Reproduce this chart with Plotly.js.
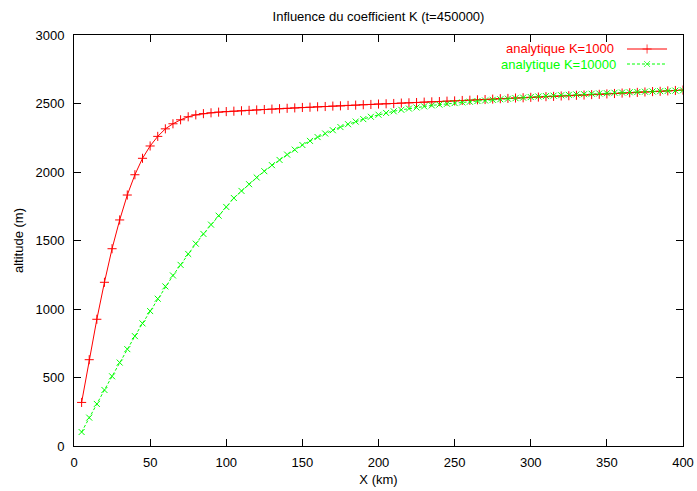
<!DOCTYPE html>
<html>
<head>
<meta charset="utf-8">
<script src="https://cdn.plot.ly/plotly-3.0.1.min.js"></script>
<style>html,body{margin:0;padding:0;background:#fff;}#chart{width:697px;height:491px;}</style>
</head>
<body>
<div id="chart"></div>
<script>
// X positions (km)
var xKm = [5,10,15,20,25,30,35,40,45,50,55,60,65,70,75,80,85,90,95,100,
  105,110,115,120,125,130,135,140,145,150,155,160,165,170,175,180,185,190,195,200,
  205,210,215,220,225,230,235,240,245,250,255,260,265,270,275,280,285,290,295,300,
  305,310,315,320,325,330,335,340,345,350,355,360,365,370,375,380,385,390,395,400];

// analytique K=1000 (m)
var altK1000 = [318,630,925,1195,1440,1650,1832,1980,2100,2190,2260,2315,2352,2381,2403,2417,2426,2432,2437,2441,
  2444,2447,2450,2453,2456,2459,2462,2465,2468,2471,2473,2476,2478,2481,2483,2486,2488,2491,2493,2496,
  2498,2500,2503,2505,2507,2510,2512,2514,2517,2519,2522,2524,2527,2529,2532,2535,2537,2540,2542,2545,
  2547,2550,2552,2555,2557,2560,2562,2565,2567,2570,2573,2576,2578,2581,2584,2587,2589,2592,2595,2598];

// analytique K=10000 (m)
var altK10000 = [102,207,307,409,509,609,707,802,895,985,1075,1165,1245,1322,1402,1477,1548,1616,1681,1745,
  1810,1862,1911,1960,2006,2050,2088,2127,2163,2197,2227,2255,2281,2305,2328,2349,2368,2386,2403,2418,
  2431,2443,2454,2463,2471,2479,2486,2492,2498,2503,2508,2513,2518,2522,2527,2531,2535,2539,2543,2547,
  2551,2554,2557,2560,2563,2566,2568,2571,2573,2575,2578,2580,2582,2584,2586,2588,2590,2592,2594,2596];

var seriesNames = ["analytique K=1000", "analytique K=10000"];
var xTicks = [0,50,100,150,200,250,300,350,400];
var yTicks = [0,500,1000,1500,2000,2500,3000];

var RED = "#ff0000", GREEN = "#00ff00";
var FONT = "Liberation Sans, Arial, Helvetica, sans-serif";

// legend sample geometry (layout, not data)
var keyY = [1 - (49 - 35) / 411, 1 - (64 - 35) / 411];
var keyXDomain = [0.908, 0.974];
var keyTextX = 0.888;

var traces = [
  {x: xKm, y: altK1000, type: "scatter", mode: "lines+markers", name: seriesNames[0],
   line: {color: RED, width: 1},
   marker: {symbol: "cross-thin-open", size: 6.5, color: RED, line: {color: RED, width: 1}},
   showlegend: false, hoverinfo: "skip"},
  {x: xKm, y: altK10000, type: "scatter", mode: "lines+markers", name: seriesNames[1],
   line: {color: GREEN, width: 1, dash: "3px,2px"},
   marker: {symbol: "x-thin-open", size: 6, color: GREEN, line: {color: GREEN, width: 1}},
   showlegend: false, hoverinfo: "skip"},
  // legend samples
  {x: [0,1,2], y: [keyY[0],keyY[0],keyY[0]], xaxis: "x2", yaxis: "y2", type: "scatter", mode: "lines+markers",
   line: {color: RED, width: 1},
   marker: {symbol: "cross-thin-open", size: [0,6.5,0], color: RED, line: {color: RED, width: 1}},
   showlegend: false, hoverinfo: "skip"},
  {x: [0,1,2], y: [keyY[1],keyY[1],keyY[1]], xaxis: "x2", yaxis: "y2", type: "scatter", mode: "lines+markers",
   line: {color: GREEN, width: 1, dash: "3px,2px"},
   marker: {symbol: "x-thin-open", size: [0,6,0], color: GREEN, line: {color: GREEN, width: 1}},
   showlegend: false, hoverinfo: "skip"}
];

var axisCommon = {
  showline: true, linecolor: "#000", linewidth: 1, mirror: "ticks",
  ticks: "inside", ticklen: 7, tickcolor: "#000", tickwidth: 1,
  showgrid: false, zeroline: false,
  tickfont: {family: FONT, size: 13, color: "#000"}
};

var layout = {
  width: 697, height: 491,
  margin: {l: 74, r: 14, t: 35, b: 45, pad: 0},
  paper_bgcolor: "#fff", plot_bgcolor: "rgba(0,0,0,0)",
  font: {family: FONT, size: 13, color: "#000"},
  title: {text: "Influence du coefficient K (t=450000)", font: {family: FONT, size: 13, color: "#000"},
          x: 0.5, xref: "paper", y: 1 - 16/491, yref: "container", yanchor: "middle", xanchor: "center"},
  xaxis: Object.assign({}, axisCommon, {range: [0, 400], tickvals: xTicks, ticktext: xTicks.map(String),
          ticklabelstandoff: 4,
          title: {text: "X (km)", font: {family: FONT, size: 13, color: "#000"}, standoff: 6}}),
  yaxis: Object.assign({}, axisCommon, {range: [0, 3000], tickvals: yTicks, ticktext: yTicks.map(String),
          ticklabelstandoff: 6,
          title: {text: "altitude (m)", font: {family: FONT, size: 13, color: "#000"}, standoff: 8}}),
  xaxis2: {domain: keyXDomain, range: [0, 2], visible: false, anchor: "y2", fixedrange: true},
  yaxis2: {domain: [0, 1], range: [0, 1], visible: false, anchor: "x2", overlaying: "y", fixedrange: true},
  annotations: [
    {text: seriesNames[0], xref: "paper", yref: "paper", x: keyTextX, y: keyY[0], xanchor: "right", yanchor: "middle",
     showarrow: false, borderpad: 0, font: {family: FONT, size: 13, color: RED}},
    {text: seriesNames[1], xref: "paper", yref: "paper", x: keyTextX + 0.004, y: keyY[1], xanchor: "right", yanchor: "middle",
     showarrow: false, borderpad: 0, font: {family: FONT, size: 13, color: GREEN}}
  ],
  showlegend: false
};

Plotly.newPlot("chart", traces, layout, {staticPlot: true, displayModeBar: false});
</script>
</body>
</html>
